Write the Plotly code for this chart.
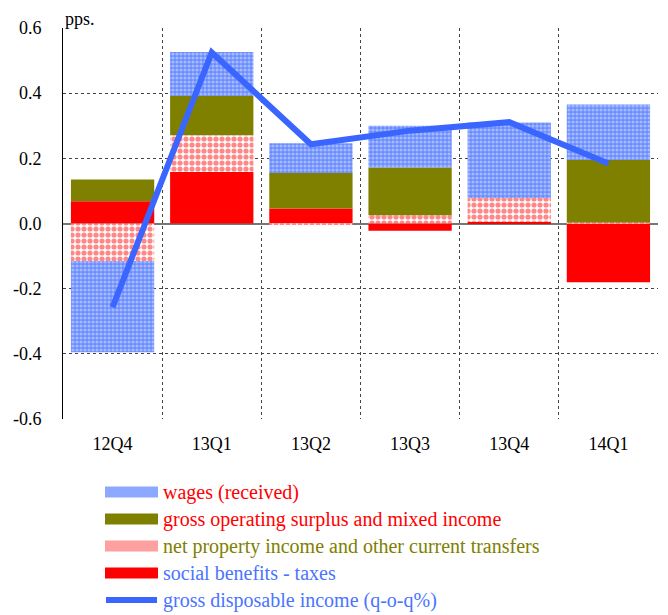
import plotly.graph_objects as go

quarters = ["12Q4", "13Q1", "13Q2", "13Q3", "13Q4", "14Q1"]
social_benefits = [0.068, 0.158, 0.046, -0.022, 0.005, -0.180]
net_property = [-0.115, 0.113, -0.003, 0.025, 0.073, 0.003]
gross_operating = [0.067, 0.120, 0.109, 0.147, 0.000, 0.192]
wages = [-0.280, 0.135, 0.091, 0.128, 0.232, 0.170]
gdi = [-0.257, 0.525, 0.243, 0.285, 0.311, 0.184]

y_ticks = [-0.6, -0.4, -0.2, 0.0, 0.2, 0.4, 0.6]
y_tick_labels = ["-0.6", "-0.4", "-0.2", "0.0", "0.2", "0.4", "0.6"]

legend_labels = [
    "wages (received)",
    "gross operating surplus and mixed income",
    "net property income and other current transfers",
    "social benefits - taxes",
    "gross disposable income (q-o-q%)",
]
legend_text_colors = ["#ff0000", "#ff0000", "#808000", "#4a74ff", "#4a74ff"]
legend_swatch_colors = ["#8ca8ff", "#808000", "#ffa0a0", "#ff0000", "#3a66ff"]

FONT = "Liberation Serif, Times New Roman, DejaVu Serif, serif"

# the page body has an 8px default margin; compensate so the plot lands where the reference has it
OFF = 8
W, H = 668 - OFF, 615 - OFF
PLOT_L, PLOT_T, PLOT_W, PLOT_H = 63 - OFF, 28 - OFF, 595, 391
PLOT_B = PLOT_T + PLOT_H

fig = go.Figure()
fig.add_trace(go.Bar(
    x=quarters, y=social_benefits, name=legend_labels[3],
    marker=dict(color="#ff0000", line=dict(width=0)),
))
fig.add_trace(go.Bar(
    x=quarters, y=net_property, name=legend_labels[2],
    marker=dict(color="#ffffff", line=dict(width=0),
                pattern=dict(shape=".", fgcolor="#ff1010", bgcolor="#ffffff",
                             size=6, solidity=0.6)),
))
fig.add_trace(go.Bar(
    x=quarters, y=gross_operating, name=legend_labels[1],
    marker=dict(color="#808000", line=dict(width=0)),
))
fig.add_trace(go.Bar(
    x=quarters, y=wages, name=legend_labels[0],
    marker=dict(color="#6f90ff", line=dict(width=0),
                pattern=dict(shape=".", fgcolor="#dfe7ff", bgcolor="#6a8cff",
                             size=4, solidity=0.5)),
))
fig.add_trace(go.Scatter(
    x=quarters, y=gdi, mode="lines", name=legend_labels[4],
    line=dict(color="#3a66ff", width=6),
))


def px_x(x):
    return (x - OFF - PLOT_L) / PLOT_W


def px_y(y):
    return (PLOT_B - (y - OFF)) / PLOT_H


shapes = []
annotations = [dict(text="pps.", xref="paper", yref="paper", x=px_x(63), y=px_y(31),
                    xanchor="left", yanchor="bottom", showarrow=False,
                    font=dict(family=FONT, size=18))]
for i, (lab, tc, sc) in enumerate(zip(legend_labels, legend_text_colors, legend_swatch_colors)):
    yc = 492 + 27 * i
    if i == 4:
        shapes.append(dict(type="line", xref="paper", yref="paper",
                           x0=px_x(106), x1=px_x(157), y0=px_y(yc), y1=px_y(yc),
                           line=dict(color=sc, width=6)))
    else:
        shapes.append(dict(type="rect", xref="paper", yref="paper",
                           x0=px_x(105), x1=px_x(158), y0=px_y(yc - 5.5), y1=px_y(yc + 5.5),
                           fillcolor=sc, line=dict(width=0)))
    annotations.append(dict(text=lab, xref="paper", yref="paper",
                            x=px_x(161), y=px_y(yc), xanchor="left", yanchor="middle",
                            showarrow=False, font=dict(family=FONT, size=20, color=tc)))

fig.update_layout(
    width=W, height=H,
    barmode="relative", bargap=0.16,
    margin=dict(l=PLOT_L, r=W - PLOT_L - PLOT_W, t=PLOT_T, b=H - PLOT_B, pad=0),
    plot_bgcolor="white", paper_bgcolor="white",
    font=dict(family=FONT, size=18, color="#000000"),
    showlegend=False,
    shapes=shapes,
    annotations=annotations,
)
fig.update_xaxes(
    type="category", tickson="boundaries", showgrid=True,
    gridcolor="#444444", griddash="dot", gridwidth=1,
    ticks="", showline=False, tickfont=dict(family=FONT, size=18),
    ticklabelstandoff=12, automargin=False,
)
fig.update_yaxes(
    range=[-0.6, 0.6], tickvals=y_ticks, ticktext=y_tick_labels,
    showgrid=True, gridcolor="#444444", griddash="dot", gridwidth=1,
    zeroline=True, zerolinecolor="#777777", zerolinewidth=2,
    showline=True, linecolor="#000000", linewidth=1,
    ticks="", tickfont=dict(family=FONT, size=18), ticklabelstandoff=17,
    automargin=False,
)

fig.write_html("out.html")
